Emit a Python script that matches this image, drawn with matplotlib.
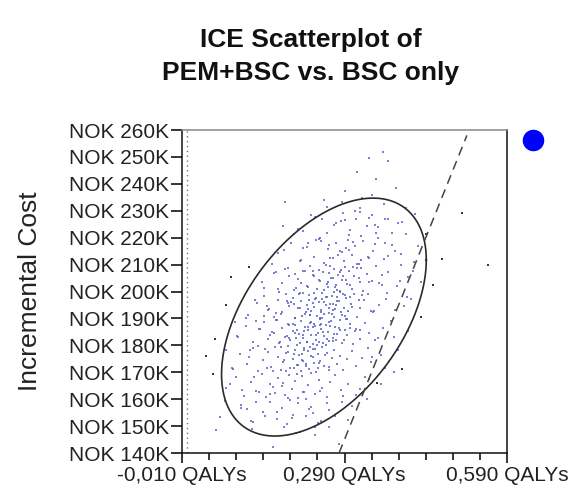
import numpy as np
import matplotlib
matplotlib.use('Agg')
import matplotlib.pyplot as plt
from matplotlib.ticker import FuncFormatter, MultipleLocator, FixedLocator

plt.rcParams['font.family'] = ['Liberation Sans', 'DejaVu Sans']

# incremental QALYs (x) and incremental cost in NOK thousands (y), read band by band
x_140 = [0.158, 0.053, 0.280, 0.200, 0.120, 0.235]
y_140 = [142.3, 148.4, 143.5, 147.5, 149.0, 149.6]

x_150 = [0.061, 0.098, 0.121, 0.140, 0.152, 0.166, 0.175, 0.183, 0.195, 0.204,
         0.218, 0.229, 0.246, 0.262, 0.285, 0.110, 0.190, 0.232]
y_150 = [153.2, 157.8, 151.6, 155.4, 159.1, 152.7, 156.9, 150.8, 154.3, 158.5,
         153.9, 157.1, 151.9, 155.8, 158.9, 156.2, 159.6, 154.7]

x_160 = [0.071, 0.089, 0.104, 0.117, 0.126, 0.138, 0.145, 0.153, 0.161, 0.168,
         0.174, 0.181, 0.187, 0.193, 0.199, 0.205, 0.211, 0.216, 0.223, 0.229,
         0.236, 0.242, 0.249, 0.257, 0.264, 0.273, 0.283, 0.296, 0.312, 0.335,
         0.132, 0.177, 0.202, 0.219, 0.158, 0.245]
y_160 = [164.3, 168.1, 161.2, 166.5, 163.0, 169.4, 160.7, 165.8, 162.3, 167.9,
         164.9, 161.5, 169.0, 163.7, 166.9, 160.4, 168.6, 162.8, 165.2, 169.7,
         161.9, 167.3, 164.1, 160.9, 166.2, 168.8, 163.4, 165.6, 161.7, 167.5,
         162.6, 166.0, 169.2, 160.2, 164.6, 163.1]

x_170 = [0.082, 0.097, 0.110, 0.121, 0.131, 0.140, 0.148, 0.155, 0.161, 0.167,
         0.172, 0.177, 0.182, 0.186, 0.190, 0.194, 0.198, 0.202, 0.206, 0.209,
         0.213, 0.216, 0.219, 0.222, 0.225, 0.228, 0.231, 0.234, 0.238, 0.241,
         0.245, 0.249, 0.253, 0.257, 0.261, 0.266, 0.271, 0.276, 0.282, 0.288,
         0.295, 0.303, 0.312, 0.323, 0.338, 0.358, 0.115, 0.158, 0.179, 0.196,
         0.211, 0.226, 0.243, 0.262, 0.185, 0.204, 0.232, 0.144]
y_170 = [171.4, 176.8, 173.2, 178.9, 170.6, 174.7, 177.5, 172.1, 179.3, 175.6,
         170.9, 173.8, 177.1, 179.8, 171.7, 175.1, 178.2, 172.6, 176.3, 170.3,
         174.2, 179.0, 172.9, 177.8, 171.1, 175.9, 178.6, 173.5, 170.1, 176.6,
         174.0, 179.5, 172.3, 177.3, 171.9, 175.4, 178.4, 173.0, 176.0, 170.7,
         174.9, 177.9, 172.5, 175.2, 173.7, 176.4, 178.1, 170.4, 174.4, 171.6,
         176.9, 179.2, 173.3, 170.8, 177.6, 172.8, 175.7, 178.7]

x_180 = [0.092, 0.108, 0.121, 0.132, 0.141, 0.149, 0.156, 0.163, 0.169, 0.175,
         0.180, 0.185, 0.190, 0.194, 0.198, 0.202, 0.206, 0.210, 0.213, 0.217,
         0.220, 0.223, 0.226, 0.229, 0.232, 0.235, 0.238, 0.241, 0.244, 0.247,
         0.250, 0.253, 0.256, 0.259, 0.262, 0.265, 0.269, 0.273, 0.277, 0.281,
         0.285, 0.290, 0.295, 0.300, 0.306, 0.312, 0.319, 0.327, 0.336, 0.347,
         0.361, 0.382, 0.126, 0.153, 0.171, 0.188, 0.200, 0.215, 0.228, 0.239,
         0.251, 0.263, 0.275, 0.292, 0.309, 0.183, 0.207, 0.222, 0.246, 0.268,
         0.198, 0.233, 0.257, 0.281, 0.166, 0.214, 0.243, 0.301]
y_180 = [183.6, 187.2, 181.4, 185.9, 188.7, 182.3, 184.8, 189.5, 180.7, 186.4,
         183.1, 188.1, 181.9, 185.3, 187.7, 180.2, 184.1, 189.1, 182.8, 186.9,
         181.2, 185.6, 188.4, 183.9, 180.5, 187.0, 182.1, 184.5, 189.8, 186.1,
         180.9, 183.4, 187.5, 185.0, 181.6, 188.9, 182.6, 186.7, 184.3, 189.3,
         181.0, 185.8, 183.7, 187.9, 180.4, 186.2, 182.4, 188.3, 184.7, 181.8,
         186.5, 183.0, 189.0, 184.0, 181.3, 187.4, 182.9, 185.2, 188.6, 180.1,
         184.9, 187.1, 182.0, 189.6, 185.5, 183.3, 180.8, 186.8, 188.0, 181.5,
         184.4, 187.8, 182.5, 185.7, 189.4, 183.8, 181.1, 186.3]

x_190 = [0.112, 0.128, 0.141, 0.151, 0.160, 0.168, 0.175, 0.182, 0.188, 0.194,
         0.199, 0.204, 0.209, 0.213, 0.217, 0.221, 0.225, 0.229, 0.233, 0.236,
         0.240, 0.243, 0.246, 0.249, 0.252, 0.255, 0.258, 0.261, 0.264, 0.267,
         0.270, 0.273, 0.277, 0.281, 0.285, 0.289, 0.293, 0.297, 0.302, 0.307,
         0.313, 0.319, 0.326, 0.334, 0.343, 0.354, 0.367, 0.384, 0.405, 0.146,
         0.172, 0.191, 0.207, 0.219, 0.231, 0.244, 0.256, 0.268, 0.279, 0.291,
         0.304, 0.322, 0.339, 0.185, 0.211, 0.238, 0.262, 0.287, 0.227, 0.253,
         0.275, 0.300, 0.163, 0.197, 0.249, 0.316, 0.222, 0.271]
y_190 = [191.3, 195.8, 198.2, 193.6, 190.7, 196.9, 192.4, 199.1, 194.5, 197.6,
         190.2, 193.9, 196.3, 199.6, 191.8, 195.1, 198.7, 192.9, 194.2, 197.2,
         190.9, 196.0, 193.2, 199.3, 191.5, 194.8, 197.9, 192.0, 195.5, 198.4,
         190.4, 193.5, 196.6, 199.8, 191.1, 194.0, 197.4, 192.7, 195.3, 198.9,
         190.6, 193.8, 196.8, 199.0, 192.2, 195.0, 197.1, 193.0, 198.1, 194.7,
         191.7, 196.2, 199.4, 192.5, 195.7, 190.1, 197.8, 193.3, 196.5, 191.0,
         194.3, 198.6, 192.8, 195.9, 190.8, 197.5, 193.7, 199.2, 191.4, 196.1,
         194.9, 198.0, 192.1, 195.2, 190.3, 197.0, 193.4, 199.7]

x_200 = [0.142, 0.160, 0.174, 0.186, 0.196, 0.205, 0.213, 0.220, 0.227, 0.233,
         0.239, 0.245, 0.250, 0.255, 0.260, 0.265, 0.270, 0.274, 0.278, 0.282,
         0.286, 0.290, 0.294, 0.298, 0.303, 0.308, 0.313, 0.319, 0.325, 0.332,
         0.340, 0.349, 0.359, 0.371, 0.386, 0.408, 0.181, 0.209, 0.231, 0.252,
         0.268, 0.284, 0.300, 0.316, 0.335, 0.198, 0.242, 0.276, 0.292, 0.222,
         0.262, 0.306, 0.354, 0.167, 0.217, 0.258, 0.288, 0.321]
y_200 = [201.4, 206.8, 203.2, 208.9, 200.6, 204.7, 207.5, 202.1, 209.3, 205.6,
         200.9, 203.8, 207.1, 209.8, 201.7, 205.1, 208.2, 202.6, 206.3, 200.3,
         204.2, 209.0, 202.9, 207.8, 201.1, 205.9, 208.6, 203.5, 200.1, 206.6,
         204.0, 209.5, 202.3, 207.3, 201.9, 205.4, 208.4, 203.0, 206.0, 200.7,
         204.9, 207.9, 202.5, 205.2, 203.7, 206.4, 208.1, 200.4, 204.4, 201.6,
         206.9, 209.2, 203.3, 200.8, 207.6, 202.8, 205.7, 208.7]

x_210 = [0.168, 0.191, 0.207, 0.221, 0.233, 0.243, 0.252, 0.260, 0.268, 0.275,
         0.282, 0.289, 0.296, 0.303, 0.310, 0.317, 0.325, 0.333, 0.342, 0.352,
         0.363, 0.377, 0.394, 0.418, 0.214, 0.247, 0.278, 0.299, 0.321, 0.346,
         0.264, 0.292, 0.238, 0.313, 0.286, 0.371]
y_210 = [214.3, 218.1, 211.2, 216.5, 213.0, 219.4, 210.7, 215.8, 212.3, 217.9,
         214.9, 211.5, 219.0, 213.7, 216.9, 210.4, 218.6, 212.8, 215.2, 219.7,
         211.9, 217.3, 214.1, 210.9, 216.2, 218.8, 213.4, 215.6, 211.7, 217.5,
         212.6, 216.0, 219.2, 210.2, 214.6, 213.1]

x_220 = [0.205, 0.236, 0.258, 0.274, 0.288, 0.300, 0.311, 0.321, 0.331, 0.341,
         0.352, 0.364, 0.378, 0.396, 0.420, 0.283, 0.318, 0.347]
y_220 = [223.2, 227.8, 221.6, 225.4, 229.1, 222.7, 226.9, 220.8, 224.3, 228.5,
         223.9, 227.1, 221.9, 225.8, 228.9, 226.2, 229.6, 224.7]

x_230 = [0.252, 0.290, 0.318, 0.340, 0.362, 0.385, 0.404, 0.180,
         0.313, 0.335, 0.361, 0.370, 0.349]
y_230 = [234.0, 237.5, 231.2, 235.8, 232.6, 238.4, 230.9, 233.2,
         244.4, 249.6, 251.8, 248.5, 241.7]

# further points read from the rim and the dense core of the cloud
x_rim = [0.072, 0.085, 0.094, 0.101, 0.113, 0.126, 0.134, 0.079, 0.108, 0.122,
         0.143, 0.152, 0.098, 0.131, 0.088, 0.117, 0.165, 0.147, 0.069, 0.159,
         0.178, 0.193, 0.208, 0.224, 0.241, 0.257, 0.272, 0.288, 0.303, 0.319,
         0.186, 0.213, 0.236, 0.262, 0.296, 0.331,
         0.328, 0.341, 0.352, 0.364, 0.376, 0.388, 0.399, 0.407, 0.318, 0.344,
         0.369, 0.392, 0.412, 0.333, 0.357, 0.381,
         0.336, 0.348, 0.359, 0.371, 0.383, 0.395, 0.404, 0.416, 0.426, 0.432,
         0.365, 0.389,
         0.213, 0.228, 0.244, 0.257, 0.271, 0.285, 0.298, 0.309, 0.322, 0.335,
         0.262, 0.291, 0.248, 0.305,
         0.125, 0.138, 0.149, 0.157, 0.169, 0.178, 0.187, 0.196, 0.209, 0.222,
         0.142, 0.163, 0.184, 0.201, 0.231, 0.176]
y_rim = [178.4, 171.2, 183.1, 163.5, 175.8, 158.9, 186.2, 165.7, 190.3, 168.4,
         153.7, 162.1, 156.9, 179.9, 188.6, 151.8, 155.3, 171.4, 159.2, 184.7,
         149.8, 153.1, 147.9, 156.4, 151.2, 158.7, 153.9, 161.3, 157.6, 163.8,
         160.4, 162.7, 146.8, 149.5, 152.4, 159.9,
         168.2, 175.6, 182.9, 171.4, 189.1, 178.3, 194.7, 185.2, 185.8, 192.6,
         199.3, 203.8, 197.1, 178.9, 165.7, 170.2,
         212.4, 221.7, 206.3, 226.8, 214.9, 209.7, 221.3, 207.5, 216.8, 203.6,
         218.2, 225.4,
         222.6, 228.4, 219.7, 231.5, 224.8, 233.2, 221.1, 229.9, 234.6, 227.3,
         217.4, 226.5, 227.1, 218.3,
         196.8, 203.4, 193.1, 210.2, 199.7, 215.6, 205.9, 221.4, 211.8, 217.9,
         190.9, 207.3, 196.4, 201.2, 207.6, 224.5]

x_core = [0.203, 0.215, 0.227, 0.238, 0.249, 0.261, 0.273, 0.284, 0.196, 0.208,
          0.221, 0.233, 0.245, 0.256, 0.268, 0.279, 0.291, 0.188, 0.199, 0.212,
          0.224, 0.236, 0.247, 0.259, 0.271, 0.282, 0.294, 0.182, 0.194, 0.206,
          0.218, 0.231, 0.243, 0.254, 0.266, 0.277, 0.289, 0.172, 0.263, 0.241]
y_core = [185.7, 178.2, 191.4, 183.9, 197.3, 188.6, 201.8, 192.5, 176.9, 193.8,
          181.3, 199.6, 187.4, 180.1, 195.2, 186.3, 198.7, 182.7, 190.1, 174.4,
          196.9, 178.8, 192.2, 203.5, 184.2, 207.1, 189.9, 170.6, 187.8, 199.1,
          172.3, 186.9, 204.4, 176.5, 191.8, 197.8, 182.1, 179.4, 209.3, 171.7]

# scattered points well outside the cloud
x_out = [0.453, 0.507, 0.555, 0.396, 0.350, 0.432, 0.470, 0.441,
         0.071, 0.114, 0.047, 0.051, 0.080, 0.035]
y_out = [202.4, 229.0, 210.0, 171.2, 166.0, 190.5, 212.0, 221.5,
         195.0, 209.0, 169.3, 182.3, 205.5, 176.0]

# confidence ellipse (centre, half extents, correlation)
ell_cx, ell_cy = 0.252, 190.5
ell_hx, ell_hy = 0.189, 44.2
ell_rho = 0.48

# willingness-to-pay line, NOK thousands per QALY
wtp = 500.0

xs = (x_140 + x_150 + x_160 + x_170 + x_180 + x_190 + x_200 + x_210 + x_220
      + x_230 + x_rim + x_core)
ys = (y_140 + y_150 + y_160 + y_170 + y_180 + y_190 + y_200 + y_210 + y_220
      + y_230 + y_rim + y_core)
n = min(len(xs), len(ys))
xs, ys = xs[:n], ys[:n]

fig = plt.figure(figsize=(5.71, 5.0), dpi=100)
ax = fig.add_axes([182/571, 47/500, 325/571, 323/500])

ax.axvline(0, color='#777777', lw=1.0, ls=(0, (1, 2.5)), zorder=1)
ax.scatter(xs, ys, s=2.8, marker='s', color='#5656c4', alpha=0.75, lw=0, zorder=2)
m = min(len(x_out), len(y_out))
ax.scatter(x_out[:m], y_out[:m], s=2.4, marker='s', color='#333344', lw=0, zorder=2)

t = np.linspace(0, 2*np.pi, 400)
ex = ell_cx + ell_hx*np.cos(t)
ey = ell_cy + ell_hy*(ell_rho*np.cos(t) + np.sqrt(1 - ell_rho**2)*np.sin(t))
ax.plot(ex, ey, color='#2a2a2a', lw=1.2, zorder=3)

wx = np.array([140.0/wtp, 258.0/wtp])
ax.plot(wx, wtp*wx, color='#444444', lw=1.1, ls=(0, (6, 4)), zorder=3)

ax.plot([1.08], [0.969], 'o', color='#0000ff', ms=14.5, transform=ax.transAxes, clip_on=False)

ax.set_xlim(-0.01, 0.59)
ax.set_ylim(140, 260)
ax.xaxis.set_major_locator(FixedLocator([-0.01, 0.29, 0.59]))
ax.xaxis.set_minor_locator(FixedLocator([-0.01 + 0.05*i for i in range(13)]))
ax.yaxis.set_major_locator(MultipleLocator(10))
ax.xaxis.set_major_formatter(FuncFormatter(lambda v, _: f'{v:.3f}'.replace('.', ',') + ' QALYs'))
ax.yaxis.set_major_formatter(FuncFormatter(lambda v, _: f'NOK {v:.0f}K'))

ax.tick_params(axis='y', which='major', length=8, width=1.1, pad=1.5, labelsize=15, labelcolor='#222222')
ax.tick_params(axis='x', which='major', length=7.5, width=1.1, pad=2, labelsize=15, labelcolor='#222222')
ax.tick_params(axis='x', which='minor', length=5, width=1.1)

for side in ['left', 'bottom', 'right']:
    ax.spines[side].set_color('#111111')
    ax.spines[side].set_linewidth(1.1)
ax.spines['top'].set_color('#888888')
ax.spines['top'].set_linewidth(1.1)

fig.text(311/571, 1 - 47/500, 'ICE Scatterplot of', ha='center', va='baseline',
         fontsize=19, fontweight='bold', color='#111111')
fig.text(311/571, 1 - 80/500, 'PEM+BSC vs. BSC only', ha='center', va='baseline',
         fontsize=19, fontweight='bold', color='#111111')
fig.text(30/571, 1 - 291/500, 'Incremental Cost', rotation=90, ha='center', va='center',
         fontsize=19, color='#222222')

fig.savefig('out.png', dpi=100)
